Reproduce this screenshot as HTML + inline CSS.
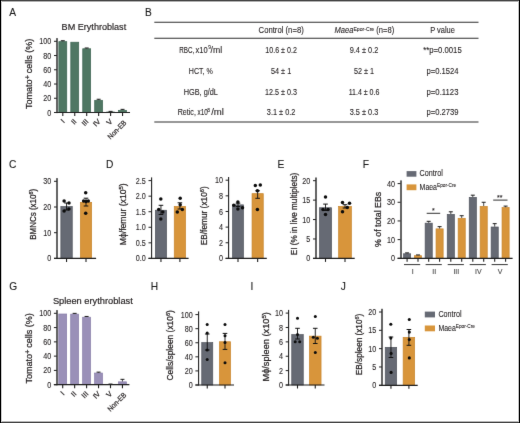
<!DOCTYPE html>
<html><head><meta charset="utf-8"><style>
html,body{margin:0;padding:0;background:#fff;width:520px;height:423px;overflow:hidden}
svg{display:block;font-family:"Liberation Sans", sans-serif;will-change:transform}
</style></head><body>
<svg width="520" height="423" viewBox="0 0 520 423"><defs><filter id="bl" x="0" y="0" width="520" height="423" filterUnits="userSpaceOnUse" color-interpolation-filters="sRGB"><feConvolveMatrix order="3" kernelMatrix="0.00490 0.06020 0.00490 0.06020 0.73960 0.06020 0.00490 0.06020 0.00490" edgeMode="duplicate"/></filter></defs><g filter="url(#bl)"><rect width="520" height="423" fill="#fff"/><text transform="translate(9.20 16.30)" font-size="10.2" text-anchor="start" fill="#1a1a1a" stroke="#1a1a1a" stroke-width="0.1"><tspan dy="0.00">A</tspan></text>
<text transform="translate(145.00 16.30)" font-size="10.2" text-anchor="start" fill="#1a1a1a" stroke="#1a1a1a" stroke-width="0.1"><tspan dy="0.00">B</tspan></text>
<text transform="translate(9.00 168.30)" font-size="10.2" text-anchor="start" fill="#1a1a1a" stroke="#1a1a1a" stroke-width="0.1"><tspan dy="0.00">C</tspan></text>
<text transform="translate(106.00 168.40)" font-size="10.2" text-anchor="start" fill="#1a1a1a" stroke="#1a1a1a" stroke-width="0.1"><tspan dy="0.00">D</tspan></text>
<text transform="translate(277.60 168.20)" font-size="10.2" text-anchor="start" fill="#1a1a1a" stroke="#1a1a1a" stroke-width="0.1"><tspan dy="0.00">E</tspan></text>
<text transform="translate(362.80 168.20)" font-size="10.2" text-anchor="start" fill="#1a1a1a" stroke="#1a1a1a" stroke-width="0.1"><tspan dy="0.00">F</tspan></text>
<text transform="translate(9.20 290.20)" font-size="10.2" text-anchor="start" fill="#1a1a1a" stroke="#1a1a1a" stroke-width="0.1"><tspan dy="0.00">G</tspan></text>
<text transform="translate(150.80 290.20)" font-size="10.2" text-anchor="start" fill="#1a1a1a" stroke="#1a1a1a" stroke-width="0.1"><tspan dy="0.00">H</tspan></text>
<text transform="translate(250.60 290.20)" font-size="10.2" text-anchor="start" fill="#1a1a1a" stroke="#1a1a1a" stroke-width="0.1"><tspan dy="0.00">I</tspan></text>
<text transform="translate(340.80 290.20)" font-size="10.2" text-anchor="start" fill="#1a1a1a" stroke="#1a1a1a" stroke-width="0.1"><tspan dy="0.00">J</tspan></text>
<text transform="translate(61.60 30.30) scale(0.9765 1)" font-size="9.3" text-anchor="start" fill="#231f20" stroke="#231f20" stroke-width="0.18"><tspan dy="0.00">BM Erythroblast</tspan></text>
<rect x="58.85" y="41.65" width="7.90" height="70.85" fill="#4f7763" stroke="#3b6350" stroke-width="0.7"/>
<line x1="62.80" y1="41.30" x2="62.80" y2="40.73" stroke="#1a1a1a" stroke-width="0.8"/>
<line x1="60.80" y1="40.73" x2="64.80" y2="40.73" stroke="#1a1a1a" stroke-width="1.0"/>
<line x1="62.80" y1="112.50" x2="62.80" y2="116.00" stroke="#1e1e1e" stroke-width="1.1"/>
<rect x="70.80" y="42.22" width="7.90" height="70.28" fill="#4f7763" stroke="#3b6350" stroke-width="0.7"/>
<line x1="74.75" y1="112.50" x2="74.75" y2="116.00" stroke="#1e1e1e" stroke-width="1.1"/>
<rect x="82.75" y="48.77" width="7.90" height="63.73" fill="#4f7763" stroke="#3b6350" stroke-width="0.7"/>
<line x1="86.70" y1="48.42" x2="86.70" y2="47.99" stroke="#1a1a1a" stroke-width="0.8"/>
<line x1="84.70" y1="47.99" x2="88.70" y2="47.99" stroke="#1a1a1a" stroke-width="1.0"/>
<line x1="86.70" y1="112.50" x2="86.70" y2="116.00" stroke="#1e1e1e" stroke-width="1.1"/>
<rect x="94.70" y="100.32" width="7.90" height="12.18" fill="#4f7763" stroke="#3b6350" stroke-width="0.7"/>
<line x1="98.65" y1="99.97" x2="98.65" y2="99.26" stroke="#1a1a1a" stroke-width="0.8"/>
<line x1="96.65" y1="99.26" x2="100.65" y2="99.26" stroke="#1a1a1a" stroke-width="1.0"/>
<line x1="98.65" y1="112.50" x2="98.65" y2="116.00" stroke="#1e1e1e" stroke-width="1.1"/>
<rect x="106.65" y="112.00" width="7.90" height="0.50" fill="#4f7763" stroke="#3b6350" stroke-width="0.7"/>
<line x1="110.60" y1="111.65" x2="110.60" y2="111.36" stroke="#1a1a1a" stroke-width="0.8"/>
<line x1="108.60" y1="111.36" x2="112.60" y2="111.36" stroke="#1a1a1a" stroke-width="1.0"/>
<line x1="110.60" y1="112.50" x2="110.60" y2="116.00" stroke="#1e1e1e" stroke-width="1.1"/>
<rect x="118.60" y="110.36" width="7.90" height="2.14" fill="#4f7763" stroke="#3b6350" stroke-width="0.7"/>
<line x1="122.55" y1="110.01" x2="122.55" y2="109.37" stroke="#1a1a1a" stroke-width="0.8"/>
<line x1="120.55" y1="109.37" x2="124.55" y2="109.37" stroke="#1a1a1a" stroke-width="1.0"/>
<line x1="122.55" y1="112.50" x2="122.55" y2="116.00" stroke="#1e1e1e" stroke-width="1.1"/>
<rect x="56" y="38.10" width="2" height="75.00" fill="#646464"/>
<line x1="54.00" y1="112.50" x2="56.90" y2="112.50" stroke="#1e1e1e" stroke-width="1"/>
<text transform="translate(51.30 115.55) scale(0.8182 1)" font-size="8.8" text-anchor="end" fill="#231f20" stroke="#231f20" stroke-width="0.1"><tspan dy="0.00">0</tspan></text>
<line x1="54.00" y1="98.26" x2="56.90" y2="98.26" stroke="#1e1e1e" stroke-width="1"/>
<text transform="translate(51.30 101.31) scale(0.8182 1)" font-size="8.8" text-anchor="end" fill="#231f20" stroke="#231f20" stroke-width="0.1"><tspan dy="0.00">20</tspan></text>
<line x1="54.00" y1="84.02" x2="56.90" y2="84.02" stroke="#1e1e1e" stroke-width="1"/>
<text transform="translate(51.30 87.07) scale(0.8182 1)" font-size="8.8" text-anchor="end" fill="#231f20" stroke="#231f20" stroke-width="0.1"><tspan dy="0.00">40</tspan></text>
<line x1="54.00" y1="69.78" x2="56.90" y2="69.78" stroke="#1e1e1e" stroke-width="1"/>
<text transform="translate(51.30 72.83) scale(0.8182 1)" font-size="8.8" text-anchor="end" fill="#231f20" stroke="#231f20" stroke-width="0.1"><tspan dy="0.00">60</tspan></text>
<line x1="54.00" y1="55.54" x2="56.90" y2="55.54" stroke="#1e1e1e" stroke-width="1"/>
<text transform="translate(51.30 58.59) scale(0.8182 1)" font-size="8.8" text-anchor="end" fill="#231f20" stroke="#231f20" stroke-width="0.1"><tspan dy="0.00">80</tspan></text>
<line x1="54.00" y1="41.30" x2="56.90" y2="41.30" stroke="#1e1e1e" stroke-width="1"/>
<text transform="translate(51.30 44.35) scale(0.8182 1)" font-size="8.8" text-anchor="end" fill="#231f20" stroke="#231f20" stroke-width="0.1"><tspan dy="0.00">100</tspan></text>
<line x1="54.00" y1="112.50" x2="130.00" y2="112.50" stroke="#1e1e1e" stroke-width="1.2"/>
<text transform="translate(65.10 122.10) rotate(-45)" font-size="7.4" text-anchor="end" fill="#231f20" stroke="#231f20" stroke-width="0.2"><tspan dy="0.00">I</tspan></text>
<text transform="translate(77.05 122.10) rotate(-45)" font-size="7.4" text-anchor="end" fill="#231f20" stroke="#231f20" stroke-width="0.2"><tspan dy="0.00">II</tspan></text>
<text transform="translate(89.00 122.10) rotate(-45)" font-size="7.4" text-anchor="end" fill="#231f20" stroke="#231f20" stroke-width="0.2"><tspan dy="0.00">III</tspan></text>
<text transform="translate(100.95 122.10) rotate(-45)" font-size="7.4" text-anchor="end" fill="#231f20" stroke="#231f20" stroke-width="0.2"><tspan dy="0.00">IV</tspan></text>
<text transform="translate(112.90 122.10) rotate(-45)" font-size="7.4" text-anchor="end" fill="#231f20" stroke="#231f20" stroke-width="0.2"><tspan dy="0.00">V</tspan></text>
<text transform="translate(126.95 123.30) rotate(-45) scale(0.9000 1)" font-size="7.4" text-anchor="end" fill="#231f20" stroke="#231f20" stroke-width="0.2"><tspan dy="0.00">Non-EB</tspan></text>
<text transform="translate(31.60 73.90) rotate(-90) scale(1.0031 1)" font-size="9.0" text-anchor="middle" fill="#231f20" stroke="#231f20" stroke-width="0.25"><tspan dy="0.00">Tomato</tspan><tspan font-size="7.65" dy="-1.80">+</tspan><tspan dy="1.80" dx="1.8">cells (%)</tspan></text>
<text transform="translate(52.90 303.80) scale(0.9983 1)" font-size="9.3" text-anchor="start" fill="#231f20" stroke="#231f20" stroke-width="0.18"><tspan dy="0.00">Spleen erythroblast</tspan></text>
<rect x="58.75" y="314.01" width="7.90" height="70.69" fill="#9a90b8" stroke="#887da8" stroke-width="0.7"/>
<line x1="62.70" y1="384.70" x2="62.70" y2="388.20" stroke="#1e1e1e" stroke-width="1.1"/>
<rect x="70.70" y="314.15" width="7.90" height="70.55" fill="#9a90b8" stroke="#887da8" stroke-width="0.7"/>
<line x1="74.65" y1="313.80" x2="74.65" y2="313.37" stroke="#1a1a1a" stroke-width="0.8"/>
<line x1="72.65" y1="313.37" x2="76.65" y2="313.37" stroke="#1a1a1a" stroke-width="1.0"/>
<line x1="74.65" y1="384.70" x2="74.65" y2="388.20" stroke="#1e1e1e" stroke-width="1.1"/>
<rect x="82.65" y="317.22" width="7.90" height="67.48" fill="#9a90b8" stroke="#887da8" stroke-width="0.7"/>
<line x1="86.60" y1="316.87" x2="86.60" y2="316.44" stroke="#1a1a1a" stroke-width="0.8"/>
<line x1="84.60" y1="316.44" x2="88.60" y2="316.44" stroke="#1a1a1a" stroke-width="1.0"/>
<line x1="86.60" y1="384.70" x2="86.60" y2="388.20" stroke="#1e1e1e" stroke-width="1.1"/>
<rect x="94.60" y="373.05" width="7.90" height="11.65" fill="#9a90b8" stroke="#887da8" stroke-width="0.7"/>
<line x1="98.55" y1="372.70" x2="98.55" y2="372.13" stroke="#1a1a1a" stroke-width="0.8"/>
<line x1="96.55" y1="372.13" x2="100.55" y2="372.13" stroke="#1a1a1a" stroke-width="1.0"/>
<line x1="98.55" y1="384.70" x2="98.55" y2="388.20" stroke="#1e1e1e" stroke-width="1.1"/>
<rect x="106.55" y="384.76" width="7.90" height="-0.06" fill="#9a90b8" stroke="#887da8" stroke-width="0.7"/>
<line x1="110.50" y1="384.41" x2="110.50" y2="384.06" stroke="#1a1a1a" stroke-width="0.8"/>
<line x1="108.50" y1="384.06" x2="112.50" y2="384.06" stroke="#1a1a1a" stroke-width="1.0"/>
<line x1="110.50" y1="384.70" x2="110.50" y2="388.20" stroke="#1e1e1e" stroke-width="1.1"/>
<rect x="118.50" y="381.84" width="7.90" height="2.86" fill="#9a90b8" stroke="#887da8" stroke-width="0.7"/>
<line x1="122.45" y1="381.49" x2="122.45" y2="379.34" stroke="#1a1a1a" stroke-width="0.8"/>
<line x1="120.45" y1="379.34" x2="124.45" y2="379.34" stroke="#1a1a1a" stroke-width="1.0"/>
<line x1="122.45" y1="384.70" x2="122.45" y2="388.20" stroke="#1e1e1e" stroke-width="1.1"/>
<rect x="56" y="310.10" width="2" height="75.20" fill="#646464"/>
<line x1="53.90" y1="384.70" x2="56.80" y2="384.70" stroke="#1e1e1e" stroke-width="1"/>
<text transform="translate(51.20 387.75) scale(0.8182 1)" font-size="8.8" text-anchor="end" fill="#231f20" stroke="#231f20" stroke-width="0.1"><tspan dy="0.00">0</tspan></text>
<line x1="53.90" y1="370.42" x2="56.80" y2="370.42" stroke="#1e1e1e" stroke-width="1"/>
<text transform="translate(51.20 373.47) scale(0.8182 1)" font-size="8.8" text-anchor="end" fill="#231f20" stroke="#231f20" stroke-width="0.1"><tspan dy="0.00">20</tspan></text>
<line x1="53.90" y1="356.14" x2="56.80" y2="356.14" stroke="#1e1e1e" stroke-width="1"/>
<text transform="translate(51.20 359.19) scale(0.8182 1)" font-size="8.8" text-anchor="end" fill="#231f20" stroke="#231f20" stroke-width="0.1"><tspan dy="0.00">40</tspan></text>
<line x1="53.90" y1="341.86" x2="56.80" y2="341.86" stroke="#1e1e1e" stroke-width="1"/>
<text transform="translate(51.20 344.91) scale(0.8182 1)" font-size="8.8" text-anchor="end" fill="#231f20" stroke="#231f20" stroke-width="0.1"><tspan dy="0.00">60</tspan></text>
<line x1="53.90" y1="327.58" x2="56.80" y2="327.58" stroke="#1e1e1e" stroke-width="1"/>
<text transform="translate(51.20 330.63) scale(0.8182 1)" font-size="8.8" text-anchor="end" fill="#231f20" stroke="#231f20" stroke-width="0.1"><tspan dy="0.00">80</tspan></text>
<line x1="53.90" y1="313.30" x2="56.80" y2="313.30" stroke="#1e1e1e" stroke-width="1"/>
<text transform="translate(51.20 316.35) scale(0.8182 1)" font-size="8.8" text-anchor="end" fill="#231f20" stroke="#231f20" stroke-width="0.1"><tspan dy="0.00">100</tspan></text>
<line x1="53.90" y1="384.70" x2="129.40" y2="384.70" stroke="#1e1e1e" stroke-width="1.2"/>
<text transform="translate(65.00 394.30) rotate(-45)" font-size="7.4" text-anchor="end" fill="#231f20" stroke="#231f20" stroke-width="0.2"><tspan dy="0.00">I</tspan></text>
<text transform="translate(76.95 394.30) rotate(-45)" font-size="7.4" text-anchor="end" fill="#231f20" stroke="#231f20" stroke-width="0.2"><tspan dy="0.00">II</tspan></text>
<text transform="translate(88.90 394.30) rotate(-45)" font-size="7.4" text-anchor="end" fill="#231f20" stroke="#231f20" stroke-width="0.2"><tspan dy="0.00">III</tspan></text>
<text transform="translate(100.85 394.30) rotate(-45)" font-size="7.4" text-anchor="end" fill="#231f20" stroke="#231f20" stroke-width="0.2"><tspan dy="0.00">IV</tspan></text>
<text transform="translate(112.80 394.30) rotate(-45)" font-size="7.4" text-anchor="end" fill="#231f20" stroke="#231f20" stroke-width="0.2"><tspan dy="0.00">V</tspan></text>
<text transform="translate(126.85 395.50) rotate(-45) scale(0.9000 1)" font-size="7.4" text-anchor="end" fill="#231f20" stroke="#231f20" stroke-width="0.2"><tspan dy="0.00">Non-EB</tspan></text>
<text transform="translate(31.60 348.40) rotate(-90) scale(1.0031 1)" font-size="9.0" text-anchor="middle" fill="#231f20" stroke="#231f20" stroke-width="0.25"><tspan dy="0.00">Tomato</tspan><tspan font-size="7.65" dy="-1.80">+</tspan><tspan dy="1.80" dx="1.8">cells (%)</tspan></text>
<line x1="154.30" y1="22.30" x2="478.50" y2="22.30" stroke="#2e2e2e" stroke-width="1.1"/>
<line x1="154.30" y1="38.20" x2="478.50" y2="38.20" stroke="#2e2e2e" stroke-width="1.1"/>
<line x1="154.30" y1="122.00" x2="478.50" y2="122.00" stroke="#2e2e2e" stroke-width="1.1"/>
<text transform="translate(258.60 33.30) scale(0.9287 1)" font-size="8.3" text-anchor="start" fill="#231f20" stroke="#231f20" stroke-width="0.1"><tspan dy="0.00">Control (n=8)</tspan></text>
<text transform="translate(334.50 33.30) scale(0.9119 1)" font-size="8.3" text-anchor="start" fill="#231f20" stroke="#231f20" stroke-width="0.1"><tspan dy="0.00" font-style="italic">Maea</tspan><tspan font-size="5.64" dy="-2.74">Epor-Cre</tspan><tspan dy="2.74"> (n=8)</tspan></text>
<text transform="translate(442.50 33.30) scale(0.9007 1)" font-size="8.3" text-anchor="middle" fill="#231f20" stroke="#231f20" stroke-width="0.1"><tspan dy="0.00">P value</tspan></text>
<text transform="translate(179.20 52.90) scale(0.7564 1)" font-size="8.3" text-anchor="start" fill="#231f20" stroke="#231f20" stroke-width="0.1"><tspan dy="0.00">RBC,</tspan></text>
<text transform="translate(195.50 52.90) scale(0.9042 1)" font-size="8.3" text-anchor="start" fill="#231f20" stroke="#231f20" stroke-width="0.1"><tspan dy="0.00">x10</tspan></text>
<text transform="translate(208.20 49.30) scale(0.8356 1)" font-size="5.8100000000000005" text-anchor="start" fill="#231f20" stroke="#231f20" stroke-width="0.1"><tspan dy="0.00">9</tspan></text>
<text transform="translate(210.60 52.90) scale(1.0484 1)" font-size="8.3" text-anchor="start" fill="#231f20" stroke="#231f20" stroke-width="0.1"><tspan dy="0.00">/ml</tspan></text>
<text transform="translate(281.10 52.90) scale(0.8573 1)" font-size="8.3" text-anchor="middle" fill="#231f20" stroke="#231f20" stroke-width="0.1"><tspan dy="0.00">10.6 ± 0.2</tspan></text>
<text transform="translate(364.00 52.90) scale(0.8870 1)" font-size="8.3" text-anchor="middle" fill="#231f20" stroke="#231f20" stroke-width="0.1"><tspan dy="0.00">9.4 ± 0.2</tspan></text>
<text transform="translate(442.50 52.90) scale(0.9296 1)" font-size="8.3" text-anchor="middle" fill="#231f20" stroke="#231f20" stroke-width="0.1"><tspan dy="0.00">**p=0.0015</tspan></text>
<text transform="translate(200.80 73.70) scale(0.8532 1)" font-size="8.3" text-anchor="middle" fill="#231f20" stroke="#231f20" stroke-width="0.1"><tspan dy="0.00">HCT, %</tspan></text>
<text transform="translate(281.10 73.70) scale(0.8777 1)" font-size="8.3" text-anchor="middle" fill="#231f20" stroke="#231f20" stroke-width="0.1"><tspan dy="0.00">54 ± 1</tspan></text>
<text transform="translate(364.00 73.70) scale(0.8733 1)" font-size="8.3" text-anchor="middle" fill="#231f20" stroke="#231f20" stroke-width="0.1"><tspan dy="0.00">52 ± 1</tspan></text>
<text transform="translate(442.50 73.70) scale(0.9240 1)" font-size="8.3" text-anchor="middle" fill="#231f20" stroke="#231f20" stroke-width="0.1"><tspan dy="0.00">p=0.1524</tspan></text>
<text transform="translate(200.80 94.50) scale(0.8851 1)" font-size="8.3" text-anchor="middle" fill="#231f20" stroke="#231f20" stroke-width="0.1"><tspan dy="0.00">HGB, g/dL</tspan></text>
<text transform="translate(281.10 94.50) scale(0.8682 1)" font-size="8.3" text-anchor="middle" fill="#231f20" stroke="#231f20" stroke-width="0.1"><tspan dy="0.00">12.5 ± 0.3</tspan></text>
<text transform="translate(364.00 94.50) scale(0.8498 1)" font-size="8.3" text-anchor="middle" fill="#231f20" stroke="#231f20" stroke-width="0.1"><tspan dy="0.00">11.4 ± 0.6</tspan></text>
<text transform="translate(442.50 94.50) scale(0.9347 1)" font-size="8.3" text-anchor="middle" fill="#231f20" stroke="#231f20" stroke-width="0.1"><tspan dy="0.00">p=0.1123</tspan></text>
<text transform="translate(177.70 115.30) scale(0.8578 1)" font-size="8.3" text-anchor="start" fill="#231f20" stroke="#231f20" stroke-width="0.1"><tspan dy="0.00">Retic,</tspan></text>
<text transform="translate(197.50 115.30) scale(0.7622 1)" font-size="8.3" text-anchor="start" fill="#231f20" stroke="#231f20" stroke-width="0.1"><tspan dy="0.00">x10</tspan></text>
<text transform="translate(207.30 111.70) scale(0.8356 1)" font-size="5.8100000000000005" text-anchor="start" fill="#231f20" stroke="#231f20" stroke-width="0.1"><tspan dy="0.00">8</tspan></text>
<text transform="translate(211.20 115.30) scale(1.1569 1)" font-size="8.3" text-anchor="start" fill="#231f20" stroke="#231f20" stroke-width="0.1"><tspan dy="0.00">/ml</tspan></text>
<text transform="translate(281.10 115.30) scale(0.8901 1)" font-size="8.3" text-anchor="middle" fill="#231f20" stroke="#231f20" stroke-width="0.1"><tspan dy="0.00">3.1 ± 0.2</tspan></text>
<text transform="translate(364.00 115.30) scale(0.8870 1)" font-size="8.3" text-anchor="middle" fill="#231f20" stroke="#231f20" stroke-width="0.1"><tspan dy="0.00">3.5 ± 0.3</tspan></text>
<text transform="translate(442.50 115.30) scale(0.9240 1)" font-size="8.3" text-anchor="middle" fill="#231f20" stroke="#231f20" stroke-width="0.1"><tspan dy="0.00">p=0.2739</tspan></text>
<rect x="60.85" y="206.55" width="11.40" height="51.85" fill="#666a74" stroke="#50545d" stroke-width="0.7"/>
<rect x="80.35" y="202.35" width="11.30" height="56.05" fill="#d8953b" stroke="#c8852c" stroke-width="0.7"/>
<line x1="66.55" y1="203.00" x2="66.55" y2="210.00" stroke="#111" stroke-width="0.9"/>
<line x1="64.25" y1="203.00" x2="68.85" y2="203.00" stroke="#111" stroke-width="1.0"/>
<line x1="64.25" y1="210.00" x2="68.85" y2="210.00" stroke="#111" stroke-width="1.0"/>
<circle cx="64.10" cy="201.10" r="1.75" fill="#0c0c0c"/>
<circle cx="69.00" cy="203.00" r="1.75" fill="#0c0c0c"/>
<circle cx="64.10" cy="211.00" r="1.75" fill="#0c0c0c"/>
<circle cx="68.90" cy="209.00" r="1.75" fill="#0c0c0c"/>
<line x1="66.55" y1="258.40" x2="66.55" y2="261.90" stroke="#1e1e1e" stroke-width="1.1"/>
<line x1="86.00" y1="198.20" x2="86.00" y2="206.00" stroke="#111" stroke-width="0.9"/>
<line x1="83.70" y1="198.20" x2="88.30" y2="198.20" stroke="#111" stroke-width="1.0"/>
<line x1="83.70" y1="206.00" x2="88.30" y2="206.00" stroke="#111" stroke-width="1.0"/>
<circle cx="85.70" cy="192.80" r="1.75" fill="#0c0c0c"/>
<circle cx="83.60" cy="201.10" r="1.75" fill="#0c0c0c"/>
<circle cx="88.30" cy="201.10" r="1.75" fill="#0c0c0c"/>
<circle cx="85.70" cy="213.20" r="1.75" fill="#0c0c0c"/>
<circle cx="86.00" cy="201.60" r="1.75" fill="#0c0c0c"/>
<line x1="86.00" y1="258.40" x2="86.00" y2="261.90" stroke="#1e1e1e" stroke-width="1.1"/>
<rect x="56" y="178.10" width="2" height="80.90" fill="#646464"/>
<line x1="54.00" y1="258.40" x2="56.90" y2="258.40" stroke="#1e1e1e" stroke-width="1"/>
<text transform="translate(51.30 261.45) scale(0.8182 1)" font-size="8.8" text-anchor="end" fill="#231f20" stroke="#231f20" stroke-width="0.1"><tspan dy="0.00">0</tspan></text>
<line x1="54.00" y1="232.70" x2="56.90" y2="232.70" stroke="#1e1e1e" stroke-width="1"/>
<text transform="translate(51.30 235.75) scale(0.8182 1)" font-size="8.8" text-anchor="end" fill="#231f20" stroke="#231f20" stroke-width="0.1"><tspan dy="0.00">10</tspan></text>
<line x1="54.00" y1="207.00" x2="56.90" y2="207.00" stroke="#1e1e1e" stroke-width="1"/>
<text transform="translate(51.30 210.05) scale(0.8182 1)" font-size="8.8" text-anchor="end" fill="#231f20" stroke="#231f20" stroke-width="0.1"><tspan dy="0.00">20</tspan></text>
<line x1="54.00" y1="181.30" x2="56.90" y2="181.30" stroke="#1e1e1e" stroke-width="1"/>
<text transform="translate(51.30 184.35) scale(0.8182 1)" font-size="8.8" text-anchor="end" fill="#231f20" stroke="#231f20" stroke-width="0.1"><tspan dy="0.00">30</tspan></text>
<line x1="54.00" y1="258.40" x2="96.10" y2="258.40" stroke="#1e1e1e" stroke-width="1.2"/>
<text transform="translate(35.50 214.30) rotate(-90) scale(0.8883 1)" font-size="9.0" text-anchor="middle" fill="#231f20" stroke="#231f20" stroke-width="0.25"><tspan dy="0.00">BMNCs (x10</tspan><tspan font-size="6.12" dy="-2.97">6</tspan><tspan dy="2.97">)</tspan></text>
<rect x="155.35" y="210.25" width="11.20" height="48.15" fill="#666a74" stroke="#50545d" stroke-width="0.7"/>
<rect x="174.25" y="206.45" width="11.30" height="51.95" fill="#d8953b" stroke="#c8852c" stroke-width="0.7"/>
<line x1="160.95" y1="205.30" x2="160.95" y2="214.50" stroke="#111" stroke-width="0.9"/>
<line x1="158.65" y1="205.30" x2="163.25" y2="205.30" stroke="#111" stroke-width="1.0"/>
<line x1="158.65" y1="214.50" x2="163.25" y2="214.50" stroke="#111" stroke-width="1.0"/>
<circle cx="160.80" cy="199.10" r="1.75" fill="#0c0c0c"/>
<circle cx="158.70" cy="209.50" r="1.75" fill="#0c0c0c"/>
<circle cx="162.80" cy="211.90" r="1.75" fill="#0c0c0c"/>
<circle cx="160.80" cy="219.00" r="1.75" fill="#0c0c0c"/>
<line x1="160.95" y1="258.40" x2="160.95" y2="261.90" stroke="#1e1e1e" stroke-width="1.1"/>
<line x1="179.90" y1="202.80" x2="179.90" y2="209.00" stroke="#111" stroke-width="0.9"/>
<line x1="177.60" y1="202.80" x2="182.20" y2="202.80" stroke="#111" stroke-width="1.0"/>
<line x1="177.60" y1="209.00" x2="182.20" y2="209.00" stroke="#111" stroke-width="1.0"/>
<circle cx="180.20" cy="198.30" r="1.75" fill="#0c0c0c"/>
<circle cx="180.20" cy="204.80" r="1.75" fill="#0c0c0c"/>
<circle cx="182.30" cy="209.50" r="1.75" fill="#0c0c0c"/>
<circle cx="177.30" cy="211.90" r="1.75" fill="#0c0c0c"/>
<line x1="179.90" y1="258.40" x2="179.90" y2="261.90" stroke="#1e1e1e" stroke-width="1.1"/>
<rect x="151" y="177.40" width="1.15" height="81.60" fill="#2a2a2a"/>
<line x1="148.50" y1="258.40" x2="151.40" y2="258.40" stroke="#1e1e1e" stroke-width="1"/>
<text transform="translate(145.80 261.45) scale(0.8182 1)" font-size="8.8" text-anchor="end" fill="#231f20" stroke="#231f20" stroke-width="0.1"><tspan dy="0.00">0.0</tspan></text>
<line x1="148.50" y1="242.84" x2="151.40" y2="242.84" stroke="#1e1e1e" stroke-width="1"/>
<text transform="translate(145.80 245.89) scale(0.8182 1)" font-size="8.8" text-anchor="end" fill="#231f20" stroke="#231f20" stroke-width="0.1"><tspan dy="0.00">0.5</tspan></text>
<line x1="148.50" y1="227.28" x2="151.40" y2="227.28" stroke="#1e1e1e" stroke-width="1"/>
<text transform="translate(145.80 230.33) scale(0.8182 1)" font-size="8.8" text-anchor="end" fill="#231f20" stroke="#231f20" stroke-width="0.1"><tspan dy="0.00">1.0</tspan></text>
<line x1="148.50" y1="211.72" x2="151.40" y2="211.72" stroke="#1e1e1e" stroke-width="1"/>
<text transform="translate(145.80 214.77) scale(0.8182 1)" font-size="8.8" text-anchor="end" fill="#231f20" stroke="#231f20" stroke-width="0.1"><tspan dy="0.00">1.5</tspan></text>
<line x1="148.50" y1="196.16" x2="151.40" y2="196.16" stroke="#1e1e1e" stroke-width="1"/>
<text transform="translate(145.80 199.21) scale(0.8182 1)" font-size="8.8" text-anchor="end" fill="#231f20" stroke="#231f20" stroke-width="0.1"><tspan dy="0.00">2.0</tspan></text>
<line x1="148.50" y1="180.60" x2="151.40" y2="180.60" stroke="#1e1e1e" stroke-width="1"/>
<text transform="translate(145.80 183.65) scale(0.8182 1)" font-size="8.8" text-anchor="end" fill="#231f20" stroke="#231f20" stroke-width="0.1"><tspan dy="0.00">2.5</tspan></text>
<line x1="148.50" y1="258.40" x2="188.60" y2="258.40" stroke="#1e1e1e" stroke-width="1.2"/>
<text transform="translate(126.10 214.30) rotate(-90) scale(0.9619 1)" font-size="9.0" text-anchor="middle" fill="#231f20" stroke="#231f20" stroke-width="0.25"><tspan dy="0.00">Mϕ/femur (x10</tspan><tspan font-size="6.12" dy="-2.97">5</tspan><tspan dy="2.97">)</tspan></text>
<rect x="232.55" y="204.85" width="10.90" height="53.55" fill="#666a74" stroke="#50545d" stroke-width="0.7"/>
<rect x="252.05" y="193.65" width="11.20" height="64.75" fill="#d8953b" stroke="#c8852c" stroke-width="0.7"/>
<line x1="238.00" y1="203.20" x2="238.00" y2="206.50" stroke="#111" stroke-width="0.9"/>
<line x1="235.70" y1="203.20" x2="240.30" y2="203.20" stroke="#111" stroke-width="1.0"/>
<line x1="235.70" y1="206.50" x2="240.30" y2="206.50" stroke="#111" stroke-width="1.0"/>
<circle cx="237.90" cy="202.00" r="1.75" fill="#0c0c0c"/>
<circle cx="233.80" cy="205.30" r="1.75" fill="#0c0c0c"/>
<circle cx="237.90" cy="209.00" r="1.75" fill="#0c0c0c"/>
<circle cx="242.50" cy="207.80" r="1.75" fill="#0c0c0c"/>
<line x1="238.00" y1="258.40" x2="238.00" y2="261.90" stroke="#1e1e1e" stroke-width="1.1"/>
<line x1="257.65" y1="190.80" x2="257.65" y2="198.30" stroke="#111" stroke-width="0.9"/>
<line x1="255.35" y1="190.80" x2="259.95" y2="190.80" stroke="#111" stroke-width="1.0"/>
<line x1="255.35" y1="198.30" x2="259.95" y2="198.30" stroke="#111" stroke-width="1.0"/>
<circle cx="255.30" cy="185.50" r="1.75" fill="#0c0c0c"/>
<circle cx="260.30" cy="185.00" r="1.75" fill="#0c0c0c"/>
<circle cx="257.40" cy="190.80" r="1.75" fill="#0c0c0c"/>
<circle cx="257.40" cy="209.50" r="1.75" fill="#0c0c0c"/>
<line x1="257.65" y1="258.40" x2="257.65" y2="261.90" stroke="#1e1e1e" stroke-width="1.1"/>
<rect x="228" y="177.00" width="1.15" height="82.00" fill="#2a2a2a"/>
<line x1="225.60" y1="258.40" x2="228.50" y2="258.40" stroke="#1e1e1e" stroke-width="1"/>
<text transform="translate(222.90 261.45) scale(0.8182 1)" font-size="8.8" text-anchor="end" fill="#231f20" stroke="#231f20" stroke-width="0.1"><tspan dy="0.00">0</tspan></text>
<line x1="225.60" y1="242.76" x2="228.50" y2="242.76" stroke="#1e1e1e" stroke-width="1"/>
<text transform="translate(222.90 245.81) scale(0.8182 1)" font-size="8.8" text-anchor="end" fill="#231f20" stroke="#231f20" stroke-width="0.1"><tspan dy="0.00">2</tspan></text>
<line x1="225.60" y1="227.12" x2="228.50" y2="227.12" stroke="#1e1e1e" stroke-width="1"/>
<text transform="translate(222.90 230.17) scale(0.8182 1)" font-size="8.8" text-anchor="end" fill="#231f20" stroke="#231f20" stroke-width="0.1"><tspan dy="0.00">4</tspan></text>
<line x1="225.60" y1="211.48" x2="228.50" y2="211.48" stroke="#1e1e1e" stroke-width="1"/>
<text transform="translate(222.90 214.53) scale(0.8182 1)" font-size="8.8" text-anchor="end" fill="#231f20" stroke="#231f20" stroke-width="0.1"><tspan dy="0.00">6</tspan></text>
<line x1="225.60" y1="195.84" x2="228.50" y2="195.84" stroke="#1e1e1e" stroke-width="1"/>
<text transform="translate(222.90 198.89) scale(0.8182 1)" font-size="8.8" text-anchor="end" fill="#231f20" stroke="#231f20" stroke-width="0.1"><tspan dy="0.00">8</tspan></text>
<line x1="225.60" y1="180.20" x2="228.50" y2="180.20" stroke="#1e1e1e" stroke-width="1"/>
<text transform="translate(222.90 183.25) scale(0.8182 1)" font-size="8.8" text-anchor="end" fill="#231f20" stroke="#231f20" stroke-width="0.1"><tspan dy="0.00">10</tspan></text>
<line x1="225.60" y1="258.40" x2="266.80" y2="258.40" stroke="#1e1e1e" stroke-width="1.2"/>
<text transform="translate(207.30 215.80) rotate(-90) scale(0.9230 1)" font-size="9.0" text-anchor="middle" fill="#231f20" stroke="#231f20" stroke-width="0.25"><tspan dy="0.00">EB/femur (x10</tspan><tspan font-size="6.12" dy="-2.97">6</tspan><tspan dy="2.97">)</tspan></text>
<rect x="319.45" y="207.75" width="12.10" height="50.65" fill="#666a74" stroke="#50545d" stroke-width="0.7"/>
<rect x="338.65" y="206.45" width="12.70" height="51.95" fill="#d8953b" stroke="#c8852c" stroke-width="0.7"/>
<line x1="325.50" y1="204.10" x2="325.50" y2="210.50" stroke="#111" stroke-width="0.9"/>
<line x1="323.20" y1="204.10" x2="327.80" y2="204.10" stroke="#111" stroke-width="1.0"/>
<line x1="323.20" y1="210.50" x2="327.80" y2="210.50" stroke="#111" stroke-width="1.0"/>
<circle cx="325.50" cy="197.00" r="1.75" fill="#0c0c0c"/>
<circle cx="323.00" cy="209.50" r="1.75" fill="#0c0c0c"/>
<circle cx="328.00" cy="209.50" r="1.75" fill="#0c0c0c"/>
<circle cx="325.50" cy="214.40" r="1.75" fill="#0c0c0c"/>
<line x1="325.50" y1="258.40" x2="325.50" y2="261.90" stroke="#1e1e1e" stroke-width="1.1"/>
<line x1="345.00" y1="204.70" x2="345.00" y2="208.00" stroke="#111" stroke-width="0.9"/>
<line x1="342.70" y1="204.70" x2="347.30" y2="204.70" stroke="#111" stroke-width="1.0"/>
<line x1="342.70" y1="208.00" x2="347.30" y2="208.00" stroke="#111" stroke-width="1.0"/>
<circle cx="342.50" cy="202.40" r="1.75" fill="#0c0c0c"/>
<circle cx="349.50" cy="203.20" r="1.75" fill="#0c0c0c"/>
<circle cx="347.30" cy="207.40" r="1.75" fill="#0c0c0c"/>
<circle cx="342.50" cy="211.70" r="1.75" fill="#0c0c0c"/>
<line x1="345.00" y1="258.40" x2="345.00" y2="261.90" stroke="#1e1e1e" stroke-width="1.1"/>
<rect x="315" y="177.50" width="2" height="81.50" fill="#646464"/>
<line x1="313.00" y1="258.40" x2="315.90" y2="258.40" stroke="#1e1e1e" stroke-width="1"/>
<text transform="translate(310.30 261.45) scale(0.8182 1)" font-size="8.8" text-anchor="end" fill="#231f20" stroke="#231f20" stroke-width="0.1"><tspan dy="0.00">0</tspan></text>
<line x1="313.00" y1="238.97" x2="315.90" y2="238.97" stroke="#1e1e1e" stroke-width="1"/>
<text transform="translate(310.30 242.02) scale(0.8182 1)" font-size="8.8" text-anchor="end" fill="#231f20" stroke="#231f20" stroke-width="0.1"><tspan dy="0.00">5</tspan></text>
<line x1="313.00" y1="219.55" x2="315.90" y2="219.55" stroke="#1e1e1e" stroke-width="1"/>
<text transform="translate(310.30 222.60) scale(0.8182 1)" font-size="8.8" text-anchor="end" fill="#231f20" stroke="#231f20" stroke-width="0.1"><tspan dy="0.00">10</tspan></text>
<line x1="313.00" y1="200.12" x2="315.90" y2="200.12" stroke="#1e1e1e" stroke-width="1"/>
<text transform="translate(310.30 203.18) scale(0.8182 1)" font-size="8.8" text-anchor="end" fill="#231f20" stroke="#231f20" stroke-width="0.1"><tspan dy="0.00">15</tspan></text>
<line x1="313.00" y1="180.70" x2="315.90" y2="180.70" stroke="#1e1e1e" stroke-width="1"/>
<text transform="translate(310.30 183.75) scale(0.8182 1)" font-size="8.8" text-anchor="end" fill="#231f20" stroke="#231f20" stroke-width="0.1"><tspan dy="0.00">20</tspan></text>
<line x1="313.00" y1="258.40" x2="354.70" y2="258.40" stroke="#1e1e1e" stroke-width="1.2"/>
<text transform="translate(297.10 214.00) rotate(-90) scale(0.9063 1)" font-size="9.0" text-anchor="middle" fill="#231f20" stroke="#231f20" stroke-width="0.25"><tspan dy="0.00">EI (% in live multiplets)</tspan></text>
<rect x="201.75" y="342.65" width="11.00" height="42.35" fill="#666a74" stroke="#50545d" stroke-width="0.7"/>
<rect x="219.45" y="341.75" width="11.10" height="43.25" fill="#d8953b" stroke="#c8852c" stroke-width="0.7"/>
<line x1="207.25" y1="334.00" x2="207.25" y2="350.00" stroke="#111" stroke-width="0.9"/>
<line x1="204.95" y1="334.00" x2="209.55" y2="334.00" stroke="#111" stroke-width="1.0"/>
<line x1="204.95" y1="350.00" x2="209.55" y2="350.00" stroke="#111" stroke-width="1.0"/>
<circle cx="207.20" cy="324.50" r="1.5" fill="#0c0c0c"/>
<circle cx="207.20" cy="333.10" r="1.5" fill="#0c0c0c"/>
<circle cx="207.20" cy="350.00" r="1.5" fill="#0c0c0c"/>
<circle cx="207.20" cy="359.40" r="1.5" fill="#0c0c0c"/>
<line x1="207.25" y1="385.00" x2="207.25" y2="388.50" stroke="#1e1e1e" stroke-width="1.1"/>
<line x1="225.00" y1="333.40" x2="225.00" y2="349.40" stroke="#111" stroke-width="0.9"/>
<line x1="222.70" y1="333.40" x2="227.30" y2="333.40" stroke="#111" stroke-width="1.0"/>
<line x1="222.70" y1="349.40" x2="227.30" y2="349.40" stroke="#111" stroke-width="1.0"/>
<circle cx="225.00" cy="324.50" r="1.5" fill="#0c0c0c"/>
<circle cx="225.00" cy="335.80" r="1.5" fill="#0c0c0c"/>
<circle cx="225.00" cy="342.60" r="1.5" fill="#0c0c0c"/>
<circle cx="225.00" cy="362.70" r="1.5" fill="#0c0c0c"/>
<line x1="225.00" y1="385.00" x2="225.00" y2="388.50" stroke="#1e1e1e" stroke-width="1.1"/>
<rect x="198" y="311.40" width="1.15" height="74.20" fill="#2a2a2a"/>
<line x1="195.40" y1="385.00" x2="198.30" y2="385.00" stroke="#1e1e1e" stroke-width="1"/>
<text transform="translate(192.70 388.05) scale(0.8182 1)" font-size="8.8" text-anchor="end" fill="#231f20" stroke="#231f20" stroke-width="0.1"><tspan dy="0.00">0</tspan></text>
<line x1="195.40" y1="370.92" x2="198.30" y2="370.92" stroke="#1e1e1e" stroke-width="1"/>
<text transform="translate(192.70 373.97) scale(0.8182 1)" font-size="8.8" text-anchor="end" fill="#231f20" stroke="#231f20" stroke-width="0.1"><tspan dy="0.00">20</tspan></text>
<line x1="195.40" y1="356.84" x2="198.30" y2="356.84" stroke="#1e1e1e" stroke-width="1"/>
<text transform="translate(192.70 359.89) scale(0.8182 1)" font-size="8.8" text-anchor="end" fill="#231f20" stroke="#231f20" stroke-width="0.1"><tspan dy="0.00">40</tspan></text>
<line x1="195.40" y1="342.76" x2="198.30" y2="342.76" stroke="#1e1e1e" stroke-width="1"/>
<text transform="translate(192.70 345.81) scale(0.8182 1)" font-size="8.8" text-anchor="end" fill="#231f20" stroke="#231f20" stroke-width="0.1"><tspan dy="0.00">60</tspan></text>
<line x1="195.40" y1="328.68" x2="198.30" y2="328.68" stroke="#1e1e1e" stroke-width="1"/>
<text transform="translate(192.70 331.73) scale(0.8182 1)" font-size="8.8" text-anchor="end" fill="#231f20" stroke="#231f20" stroke-width="0.1"><tspan dy="0.00">80</tspan></text>
<line x1="195.40" y1="314.60" x2="198.30" y2="314.60" stroke="#1e1e1e" stroke-width="1"/>
<text transform="translate(192.70 317.65) scale(0.8182 1)" font-size="8.8" text-anchor="end" fill="#231f20" stroke="#231f20" stroke-width="0.1"><tspan dy="0.00">100</tspan></text>
<line x1="195.40" y1="385.00" x2="234.00" y2="385.00" stroke="#1e1e1e" stroke-width="1.2"/>
<text transform="translate(173.20 345.30) rotate(-90) scale(0.9346 1)" font-size="9.0" text-anchor="middle" fill="#231f20" stroke="#231f20" stroke-width="0.25"><tspan dy="0.00">Cells/spleen (x10</tspan><tspan font-size="6.12" dy="-2.97">6</tspan><tspan dy="2.97">)</tspan></text>
<rect x="291.75" y="334.65" width="11.50" height="50.35" fill="#666a74" stroke="#50545d" stroke-width="0.7"/>
<rect x="309.45" y="336.15" width="11.60" height="48.85" fill="#d8953b" stroke="#c8852c" stroke-width="0.7"/>
<line x1="297.50" y1="328.30" x2="297.50" y2="339.00" stroke="#111" stroke-width="0.9"/>
<line x1="295.20" y1="328.30" x2="299.80" y2="328.30" stroke="#111" stroke-width="1.0"/>
<line x1="295.20" y1="339.00" x2="299.80" y2="339.00" stroke="#111" stroke-width="1.0"/>
<circle cx="297.50" cy="318.30" r="1.5" fill="#0c0c0c"/>
<circle cx="297.50" cy="334.60" r="1.5" fill="#0c0c0c"/>
<circle cx="295.20" cy="341.70" r="1.5" fill="#0c0c0c"/>
<circle cx="299.70" cy="341.70" r="1.5" fill="#0c0c0c"/>
<line x1="297.50" y1="385.00" x2="297.50" y2="388.50" stroke="#1e1e1e" stroke-width="1.1"/>
<line x1="315.25" y1="328.30" x2="315.25" y2="343.50" stroke="#111" stroke-width="0.9"/>
<line x1="312.95" y1="328.30" x2="317.55" y2="328.30" stroke="#111" stroke-width="1.0"/>
<line x1="312.95" y1="343.50" x2="317.55" y2="343.50" stroke="#111" stroke-width="1.0"/>
<circle cx="315.30" cy="316.50" r="1.5" fill="#0c0c0c"/>
<circle cx="313.30" cy="337.20" r="1.5" fill="#0c0c0c"/>
<circle cx="317.40" cy="338.20" r="1.5" fill="#0c0c0c"/>
<circle cx="315.30" cy="352.40" r="1.5" fill="#0c0c0c"/>
<line x1="315.25" y1="385.00" x2="315.25" y2="388.50" stroke="#1e1e1e" stroke-width="1.1"/>
<rect x="288" y="309.90" width="1.15" height="75.70" fill="#2a2a2a"/>
<line x1="285.70" y1="385.00" x2="288.60" y2="385.00" stroke="#1e1e1e" stroke-width="1"/>
<text transform="translate(283.00 388.05) scale(0.8182 1)" font-size="8.8" text-anchor="end" fill="#231f20" stroke="#231f20" stroke-width="0.1"><tspan dy="0.00">0</tspan></text>
<line x1="285.70" y1="370.62" x2="288.60" y2="370.62" stroke="#1e1e1e" stroke-width="1"/>
<text transform="translate(283.00 373.67) scale(0.8182 1)" font-size="8.8" text-anchor="end" fill="#231f20" stroke="#231f20" stroke-width="0.1"><tspan dy="0.00">2</tspan></text>
<line x1="285.70" y1="356.24" x2="288.60" y2="356.24" stroke="#1e1e1e" stroke-width="1"/>
<text transform="translate(283.00 359.29) scale(0.8182 1)" font-size="8.8" text-anchor="end" fill="#231f20" stroke="#231f20" stroke-width="0.1"><tspan dy="0.00">4</tspan></text>
<line x1="285.70" y1="341.86" x2="288.60" y2="341.86" stroke="#1e1e1e" stroke-width="1"/>
<text transform="translate(283.00 344.91) scale(0.8182 1)" font-size="8.8" text-anchor="end" fill="#231f20" stroke="#231f20" stroke-width="0.1"><tspan dy="0.00">6</tspan></text>
<line x1="285.70" y1="327.48" x2="288.60" y2="327.48" stroke="#1e1e1e" stroke-width="1"/>
<text transform="translate(283.00 330.53) scale(0.8182 1)" font-size="8.8" text-anchor="end" fill="#231f20" stroke="#231f20" stroke-width="0.1"><tspan dy="0.00">8</tspan></text>
<line x1="285.70" y1="313.10" x2="288.60" y2="313.10" stroke="#1e1e1e" stroke-width="1"/>
<text transform="translate(283.00 316.15) scale(0.8182 1)" font-size="8.8" text-anchor="end" fill="#231f20" stroke="#231f20" stroke-width="0.1"><tspan dy="0.00">10</tspan></text>
<line x1="285.70" y1="385.00" x2="324.50" y2="385.00" stroke="#1e1e1e" stroke-width="1.2"/>
<text transform="translate(269.20 346.80) rotate(-90) scale(1.0225 1)" font-size="9.0" text-anchor="middle" fill="#231f20" stroke="#231f20" stroke-width="0.25"><tspan dy="0.00">Mϕ/spleen (x10</tspan><tspan font-size="6.12" dy="-2.97">5</tspan><tspan dy="2.97">)</tspan></text>
<rect x="385.25" y="347.35" width="11.40" height="37.95" fill="#666a74" stroke="#50545d" stroke-width="0.7"/>
<rect x="403.15" y="337.35" width="11.50" height="47.95" fill="#d8953b" stroke="#c8852c" stroke-width="0.7"/>
<line x1="390.95" y1="337.00" x2="390.95" y2="357.50" stroke="#111" stroke-width="0.9"/>
<line x1="388.65" y1="337.00" x2="393.25" y2="337.00" stroke="#111" stroke-width="1.0"/>
<line x1="388.65" y1="357.50" x2="393.25" y2="357.50" stroke="#111" stroke-width="1.0"/>
<circle cx="390.80" cy="324.20" r="1.55" fill="#0c0c0c"/>
<circle cx="390.80" cy="338.10" r="1.55" fill="#0c0c0c"/>
<circle cx="391.10" cy="353.40" r="1.55" fill="#0c0c0c"/>
<circle cx="391.10" cy="372.40" r="1.55" fill="#0c0c0c"/>
<line x1="390.95" y1="385.30" x2="390.95" y2="388.80" stroke="#1e1e1e" stroke-width="1.1"/>
<line x1="408.90" y1="329.50" x2="408.90" y2="345.30" stroke="#111" stroke-width="0.9"/>
<line x1="406.60" y1="329.50" x2="411.20" y2="329.50" stroke="#111" stroke-width="1.0"/>
<line x1="406.60" y1="345.30" x2="411.20" y2="345.30" stroke="#111" stroke-width="1.0"/>
<circle cx="409.30" cy="319.50" r="1.55" fill="#0c0c0c"/>
<circle cx="409.30" cy="332.10" r="1.55" fill="#0c0c0c"/>
<circle cx="409.30" cy="339.60" r="1.55" fill="#0c0c0c"/>
<circle cx="409.30" cy="357.90" r="1.55" fill="#0c0c0c"/>
<line x1="408.90" y1="385.30" x2="408.90" y2="388.80" stroke="#1e1e1e" stroke-width="1.1"/>
<rect x="381" y="308.80" width="2" height="77.10" fill="#646464"/>
<line x1="379.00" y1="385.30" x2="381.90" y2="385.30" stroke="#1e1e1e" stroke-width="1"/>
<text transform="translate(376.30 388.35) scale(0.8182 1)" font-size="8.8" text-anchor="end" fill="#231f20" stroke="#231f20" stroke-width="0.1"><tspan dy="0.00">0</tspan></text>
<line x1="379.00" y1="366.98" x2="381.90" y2="366.98" stroke="#1e1e1e" stroke-width="1"/>
<text transform="translate(376.30 370.03) scale(0.8182 1)" font-size="8.8" text-anchor="end" fill="#231f20" stroke="#231f20" stroke-width="0.1"><tspan dy="0.00">5</tspan></text>
<line x1="379.00" y1="348.65" x2="381.90" y2="348.65" stroke="#1e1e1e" stroke-width="1"/>
<text transform="translate(376.30 351.70) scale(0.8182 1)" font-size="8.8" text-anchor="end" fill="#231f20" stroke="#231f20" stroke-width="0.1"><tspan dy="0.00">10</tspan></text>
<line x1="379.00" y1="330.32" x2="381.90" y2="330.32" stroke="#1e1e1e" stroke-width="1"/>
<text transform="translate(376.30 333.38) scale(0.8182 1)" font-size="8.8" text-anchor="end" fill="#231f20" stroke="#231f20" stroke-width="0.1"><tspan dy="0.00">15</tspan></text>
<line x1="379.00" y1="312.00" x2="381.90" y2="312.00" stroke="#1e1e1e" stroke-width="1"/>
<text transform="translate(376.30 315.05) scale(0.8182 1)" font-size="8.8" text-anchor="end" fill="#231f20" stroke="#231f20" stroke-width="0.1"><tspan dy="0.00">20</tspan></text>
<line x1="379.00" y1="385.30" x2="417.70" y2="385.30" stroke="#1e1e1e" stroke-width="1.2"/>
<text transform="translate(362.20 344.40) rotate(-90) scale(0.9119 1)" font-size="9.0" text-anchor="middle" fill="#231f20" stroke="#231f20" stroke-width="0.25"><tspan dy="0.00">EB/spleen (x10</tspan><tspan font-size="6.12" dy="-2.97">6</tspan><tspan dy="2.97">)</tspan></text>
<rect x="424.80" y="311.60" width="10.20" height="5.80" fill="#666a74"/>
<text transform="translate(438.40 317.10) scale(0.8368 1)" font-size="8.6" text-anchor="start" fill="#231f20" stroke="#231f20" stroke-width="0.1"><tspan dy="0.00">Control</tspan></text>
<rect x="424.80" y="325.50" width="10.20" height="5.80" fill="#d8953b"/>
<text transform="translate(438.40 331.00) scale(0.8091 1)" font-size="8.6" text-anchor="start" fill="#231f20" stroke="#231f20" stroke-width="0.1"><tspan dy="0.00">Maea</tspan><tspan font-size="5.85" dy="-2.84">Epor-Cre</tspan></text>
<rect x="403.55" y="253.79" width="7.10" height="4.51" fill="#666a74" stroke="#50545d" stroke-width="0.7"/>
<line x1="407.10" y1="253.44" x2="407.10" y2="252.88" stroke="#1a1a1a" stroke-width="0.8"/>
<line x1="405.10" y1="252.88" x2="409.10" y2="252.88" stroke="#1a1a1a" stroke-width="1.0"/>
<line x1="407.10" y1="258.30" x2="407.10" y2="261.80" stroke="#1e1e1e" stroke-width="1.1"/>
<rect x="414.45" y="255.66" width="7.10" height="2.64" fill="#d8953b" stroke="#c8852c" stroke-width="0.7"/>
<line x1="418.00" y1="255.31" x2="418.00" y2="254.94" stroke="#1a1a1a" stroke-width="0.8"/>
<line x1="416.00" y1="254.94" x2="420.00" y2="254.94" stroke="#1a1a1a" stroke-width="1.0"/>
<line x1="418.00" y1="258.30" x2="418.00" y2="261.80" stroke="#1e1e1e" stroke-width="1.1"/>
<line x1="404.00" y1="264.60" x2="420.20" y2="264.60" stroke="#333" stroke-width="1"/>
<text transform="translate(412.60 274.00)" font-size="7.0" text-anchor="middle" fill="#444" stroke="#444" stroke-width="0.1"><tspan dy="0.00">I</tspan></text>
<rect x="425.15" y="223.17" width="7.10" height="35.13" fill="#666a74" stroke="#50545d" stroke-width="0.7"/>
<line x1="428.70" y1="222.82" x2="428.70" y2="221.32" stroke="#1a1a1a" stroke-width="0.8"/>
<line x1="426.70" y1="221.32" x2="430.70" y2="221.32" stroke="#1a1a1a" stroke-width="1.0"/>
<line x1="428.70" y1="258.30" x2="428.70" y2="261.80" stroke="#1e1e1e" stroke-width="1.1"/>
<rect x="436.05" y="228.86" width="7.10" height="29.44" fill="#d8953b" stroke="#c8852c" stroke-width="0.7"/>
<line x1="439.60" y1="228.51" x2="439.60" y2="226.65" stroke="#1a1a1a" stroke-width="0.8"/>
<line x1="437.60" y1="226.65" x2="441.60" y2="226.65" stroke="#1a1a1a" stroke-width="1.0"/>
<line x1="439.60" y1="258.30" x2="439.60" y2="261.80" stroke="#1e1e1e" stroke-width="1.1"/>
<line x1="425.60" y1="264.60" x2="441.80" y2="264.60" stroke="#333" stroke-width="1"/>
<text transform="translate(434.20 274.00)" font-size="7.0" text-anchor="middle" fill="#444" stroke="#444" stroke-width="0.1"><tspan dy="0.00">II</tspan></text>
<rect x="447.25" y="214.39" width="7.10" height="43.91" fill="#666a74" stroke="#50545d" stroke-width="0.7"/>
<line x1="450.80" y1="214.04" x2="450.80" y2="211.80" stroke="#1a1a1a" stroke-width="0.8"/>
<line x1="448.80" y1="211.80" x2="452.80" y2="211.80" stroke="#1a1a1a" stroke-width="1.0"/>
<line x1="450.80" y1="258.30" x2="450.80" y2="261.80" stroke="#1e1e1e" stroke-width="1.1"/>
<rect x="458.15" y="218.31" width="7.10" height="39.99" fill="#d8953b" stroke="#c8852c" stroke-width="0.7"/>
<line x1="461.70" y1="217.96" x2="461.70" y2="215.72" stroke="#1a1a1a" stroke-width="0.8"/>
<line x1="459.70" y1="215.72" x2="463.70" y2="215.72" stroke="#1a1a1a" stroke-width="1.0"/>
<line x1="461.70" y1="258.30" x2="461.70" y2="261.80" stroke="#1e1e1e" stroke-width="1.1"/>
<line x1="447.70" y1="264.60" x2="463.90" y2="264.60" stroke="#333" stroke-width="1"/>
<text transform="translate(456.30 274.00)" font-size="7.0" text-anchor="middle" fill="#444" stroke="#444" stroke-width="0.1"><tspan dy="0.00">III</tspan></text>
<rect x="469.25" y="197.40" width="7.10" height="60.90" fill="#666a74" stroke="#50545d" stroke-width="0.7"/>
<line x1="472.80" y1="197.05" x2="472.80" y2="195.18" stroke="#1a1a1a" stroke-width="0.8"/>
<line x1="470.80" y1="195.18" x2="474.80" y2="195.18" stroke="#1a1a1a" stroke-width="1.0"/>
<line x1="472.80" y1="258.30" x2="472.80" y2="261.80" stroke="#1e1e1e" stroke-width="1.1"/>
<rect x="480.15" y="206.36" width="7.10" height="51.94" fill="#d8953b" stroke="#c8852c" stroke-width="0.7"/>
<line x1="483.70" y1="206.01" x2="483.70" y2="202.27" stroke="#1a1a1a" stroke-width="0.8"/>
<line x1="481.70" y1="202.27" x2="485.70" y2="202.27" stroke="#1a1a1a" stroke-width="1.0"/>
<line x1="483.70" y1="258.30" x2="483.70" y2="261.80" stroke="#1e1e1e" stroke-width="1.1"/>
<line x1="469.70" y1="264.60" x2="485.90" y2="264.60" stroke="#333" stroke-width="1"/>
<text transform="translate(478.30 274.00)" font-size="7.0" text-anchor="middle" fill="#444" stroke="#444" stroke-width="0.1"><tspan dy="0.00">IV</tspan></text>
<rect x="491.15" y="227.00" width="7.10" height="31.30" fill="#666a74" stroke="#50545d" stroke-width="0.7"/>
<line x1="494.70" y1="226.65" x2="494.70" y2="223.66" stroke="#1a1a1a" stroke-width="0.8"/>
<line x1="492.70" y1="223.66" x2="496.70" y2="223.66" stroke="#1a1a1a" stroke-width="1.0"/>
<line x1="494.70" y1="258.30" x2="494.70" y2="261.80" stroke="#1e1e1e" stroke-width="1.1"/>
<rect x="502.05" y="207.57" width="7.10" height="50.73" fill="#d8953b" stroke="#c8852c" stroke-width="0.7"/>
<line x1="505.60" y1="207.22" x2="505.60" y2="206.10" stroke="#1a1a1a" stroke-width="0.8"/>
<line x1="503.60" y1="206.10" x2="507.60" y2="206.10" stroke="#1a1a1a" stroke-width="1.0"/>
<line x1="505.60" y1="258.30" x2="505.60" y2="261.80" stroke="#1e1e1e" stroke-width="1.1"/>
<line x1="491.60" y1="264.60" x2="507.80" y2="264.60" stroke="#333" stroke-width="1"/>
<text transform="translate(500.20 274.00)" font-size="7.0" text-anchor="middle" fill="#444" stroke="#444" stroke-width="0.1"><tspan dy="0.00">V</tspan></text>
<rect x="400" y="180.40" width="2" height="78.50" fill="#646464"/>
<line x1="397.60" y1="258.30" x2="400.50" y2="258.30" stroke="#1e1e1e" stroke-width="1"/>
<text transform="translate(394.90 261.35) scale(0.8182 1)" font-size="8.8" text-anchor="end" fill="#231f20" stroke="#231f20" stroke-width="0.1"><tspan dy="0.00">0</tspan></text>
<line x1="397.60" y1="239.62" x2="400.50" y2="239.62" stroke="#1e1e1e" stroke-width="1"/>
<text transform="translate(394.90 242.68) scale(0.8182 1)" font-size="8.8" text-anchor="end" fill="#231f20" stroke="#231f20" stroke-width="0.1"><tspan dy="0.00">10</tspan></text>
<line x1="397.60" y1="220.95" x2="400.50" y2="220.95" stroke="#1e1e1e" stroke-width="1"/>
<text transform="translate(394.90 224.00) scale(0.8182 1)" font-size="8.8" text-anchor="end" fill="#231f20" stroke="#231f20" stroke-width="0.1"><tspan dy="0.00">20</tspan></text>
<line x1="397.60" y1="202.28" x2="400.50" y2="202.28" stroke="#1e1e1e" stroke-width="1"/>
<text transform="translate(394.90 205.33) scale(0.8182 1)" font-size="8.8" text-anchor="end" fill="#231f20" stroke="#231f20" stroke-width="0.1"><tspan dy="0.00">30</tspan></text>
<line x1="397.60" y1="183.60" x2="400.50" y2="183.60" stroke="#1e1e1e" stroke-width="1"/>
<text transform="translate(394.90 186.65) scale(0.8182 1)" font-size="8.8" text-anchor="end" fill="#231f20" stroke="#231f20" stroke-width="0.1"><tspan dy="0.00">40</tspan></text>
<line x1="397.60" y1="258.30" x2="512.60" y2="258.30" stroke="#1e1e1e" stroke-width="1.2"/>
<text transform="translate(381.30 219.40) rotate(-90) scale(0.9570 1)" font-size="9.2" text-anchor="middle" fill="#231f20" stroke="#231f20" stroke-width="0.25"><tspan dy="0.00">% of total EBs</tspan></text>
<line x1="426.70" y1="213.30" x2="440.20" y2="213.30" stroke="#1a1a1a" stroke-width="0.9"/>
<text transform="translate(433.40 212.80)" font-size="7" text-anchor="middle" fill="#231f20" stroke="#231f20" stroke-width="0.1"><tspan dy="0.00">*</tspan></text>
<line x1="493.20" y1="200.10" x2="507.50" y2="200.10" stroke="#1a1a1a" stroke-width="0.9"/>
<text transform="translate(499.80 199.80)" font-size="7" text-anchor="middle" fill="#231f20" stroke="#231f20" stroke-width="0.1"><tspan dy="0.00">**</tspan></text>
<rect x="406.60" y="171.10" width="9.80" height="5.60" fill="#666a74"/>
<text transform="translate(419.60 176.30) scale(0.8368 1)" font-size="8.6" text-anchor="start" fill="#231f20" stroke="#231f20" stroke-width="0.1"><tspan dy="0.00">Control</tspan></text>
<rect x="406.60" y="184.40" width="9.80" height="5.80" fill="#d8953b"/>
<text transform="translate(419.60 189.90) scale(0.8091 1)" font-size="8.6" text-anchor="start" fill="#231f20" stroke="#231f20" stroke-width="0.1"><tspan dy="0.00">Maea</tspan><tspan font-size="5.85" dy="-2.84">Epor-Cre</tspan></text></g><rect x="0" y="1" width="520" height="1" fill="#b0b0b0"/><rect x="0" y="421" width="520" height="1" fill="#b8b8b8"/><rect x="1" y="0" width="1" height="423" fill="#c8c8c8"/><rect x="518" y="0" width="1" height="423" fill="#c0c0c0"/><rect x="0" y="0" width="520" height="1" fill="#484848"/><rect x="0" y="422" width="520" height="1" fill="#484848"/><rect x="0" y="0" width="1" height="423" fill="#000"/><rect x="519" y="0" width="1" height="423" fill="#050505"/></svg>
</body></html>
